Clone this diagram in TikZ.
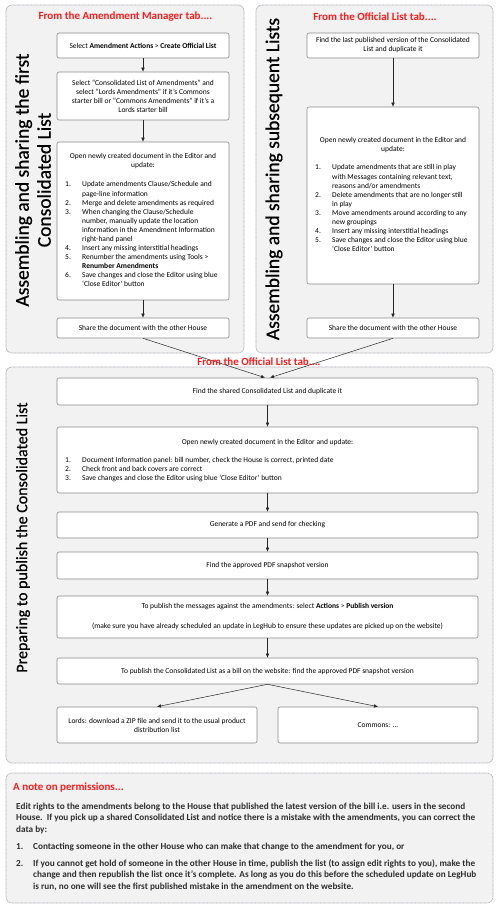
\documentclass[tikz,border=0pt]{standalone}
\usepackage{fontspec}
\setmainfont{Carlito}
\newfontfamily\titlefont[FakeBold=0.6]{Carlito}
\usetikzlibrary{arrows.meta,calc}
\definecolor{panelfill}{HTML}{F2F2F2}
\definecolor{panelline}{HTML}{A9A9B4}
\definecolor{boxline}{HTML}{8A8A8A}
\definecolor{headred}{HTML}{FF1A1A}
\definecolor{notetext}{HTML}{2E2E2E}
\begin{document}
\begin{tikzpicture}[x=1pt,y=-1pt,
  panel/.style={fill=panelfill, draw=panelline, line width=0.6pt, dash pattern=on 0.8pt off 0.5pt, rounded corners=6pt},
  box/.style={draw=boxline, fill=white, line width=0.6pt, rounded corners=2pt, inner sep=0pt, align=center, font=\fontsize{7.5}{9}\selectfont},
  btext/.style={inner sep=0pt, align=center, font=\fontsize{7.5}{9}\selectfont},
  ltext/.style={inner sep=0pt, anchor=base west, font=\fontsize{7.5}{9.05}\selectfont},
  head/.style={text=headred, font=\fontsize{11}{13}\selectfont\bfseries, inner sep=0pt},
  vtitle/.style={rotate=90, align=center, inner sep=0pt, text=black},
  notestyle/.style={inner sep=0pt, anchor=base west, text=notetext, font=\fontsize{9.2}{11.6}\selectfont\bfseries},
  arr/.style={-{Latex[length=4pt,width=3.6pt]}, draw=black!85, line width=0.5pt}
]
\useasboundingbox (0,0) rectangle (502,909);

% panels
\draw[panel] (6,5) rectangle (244,353);
\draw[panel] (256,5) rectangle (493,353);
\draw[panel] (6,367) rectangle (493,763);
\draw[panel] (6,773) rectangle (493,903);

% headings
\node[head] (hl) at (125.5,17) {From the Amendment Manager tab....};
\node[head] (hr) at (375,17) {From the Official List tab....};

% vertical titles
\node[vtitle, font=\titlefont\fontsize{19.5}{22}\selectfont] (tl) at (33,180) {Assembling and sharing the first\\Consolidated List};
\node[vtitle, font=\titlefont\fontsize{19.5}{22}\selectfont] (tr) at (274,179) {Assembling and sharing subsequent Lists};
\node[vtitle, font=\titlefont\fontsize{16}{19}\selectfont] (tm) at (23,537.5) {Preparing to publish the Consolidated List};

% left column
\node[box, minimum width=172pt, minimum height=25pt] (l1) at (143,45.5) {Select \textbf{Amendment Actions} > \textbf{Create Official List}};
\node[box, minimum width=172pt, minimum height=48pt] (l2) at (143,96) {Select “Consolidated List of Amendments” and\\select “Lords Amendments” if it’s Commons\\starter bill or “Commons Amendments” if it’s a\\Lords starter bill};
\node[box, minimum width=172pt, minimum height=158pt] (l3) at (143,221) {};
\node[btext] (l3h) at (143,161.5) {Open newly created document in the Editor and\\update:};
\node[ltext] (l3list) at (65,187) {\begin{tabular}[t]{@{}p{17pt}@{}l@{}}
1. & Update amendments Clause/Schedule and\\
   & page-line information\\
2. & Merge and delete amendments as required\\
3. & When changing the Clause/Schedule\\
   & number, manually update the location\\
   & information in the Amendment Information\\
   & right-hand panel\\
4. & Insert any missing interstitial headings\\
5. & Renumber the amendments using Tools >\\
   & \textbf{Renumber Amendments}\\
6. & Save changes and close the Editor using blue\\
   & ‘Close Editor’ button
\end{tabular}};
\node[box, minimum width=172pt, minimum height=20pt] (l4) at (143,328) {Share the document with the other House};

% right column
\node[box, minimum width=172pt, minimum height=25pt] (r1) at (393,45.5) {Find the last published version of the Consolidated\\List and duplicate it};
\node[box, minimum width=172pt, minimum height=177pt] (r2) at (393,195.5) {};
\node[btext] (r2h) at (393,145) {Open newly created document in the Editor and\\update:};
\node[ltext] (r2list) at (315,170) {\begin{tabular}[t]{@{}p{17pt}@{}l@{}}
1. & Update amendments that are still in play\\
   & with Messages containing relevant text,\\
   & reasons and/or amendments\\
2. & Delete amendments that are no longer still\\
   & in play\\
3. & Move amendments around according to any\\
   & new groupings\\
4. & Insert any missing interstitial headings\\
5. & Save changes and close the Editor using blue\\
   & ‘Close Editor’ button
\end{tabular}};
\node[box, minimum width=172pt, minimum height=20pt] (r3) at (393,328) {Share the document with the other House};

% middle section
\node[box, minimum width=421pt, minimum height=27pt] (m1) at (267.5,391.5) {Find the shared Consolidated List and duplicate it};
\node[box, minimum width=421pt, minimum height=66pt] (m2) at (267.5,460) {};
\node[btext] (m2h) at (267.5,442) {Open newly created document in the Editor and update:};
\node[ltext] (m2list) at (65,462) {\begin{tabular}[t]{@{}p{17pt}@{}l@{}}
1. & Document Information panel: bill number, check the House is correct, printed date\\
2. & Check front and back covers are correct\\
3. & Save changes and close the Editor using blue ‘Close Editor’ button
\end{tabular}};
\node[box, minimum width=421pt, minimum height=26pt] (m3) at (267.5,525) {Generate a PDF and send for checking};
\node[box, minimum width=421pt, minimum height=27pt] (m4) at (267.5,565.5) {Find the approved PDF snapshot version};
\node[box, minimum width=421pt, minimum height=42pt] (m5) at (267.5,617) {To publish the messages against the amendments: select \textbf{Actions} > \textbf{Publish version}\\[11pt](make sure you have already scheduled an update in LegHub to ensure these updates are picked up on the website)};
\node[box, minimum width=421pt, minimum height=26pt] (m6) at (267.5,671) {To publish the Consolidated List as a bill on the website: find the approved PDF snapshot version};
\node[box, minimum width=200pt, minimum height=36pt] (lords) at (157,725) {Lords: download a ZIP file and send it to the usual product\\distribution list};
\node[box, minimum width=200pt, minimum height=36pt] (commons) at (378,725) {Commons: ...};

% arrows
\draw[arr] (l1.south) -- (l2.north);
\draw[arr] (l2.south) -- (l3.north);
\draw[arr] (l3.south) -- (l4.north);
\draw[arr] (r1.south) -- (r2.north);
\draw[arr] (r2.south) -- (r3.north);
\draw[arr] (l4.south) -- ($(m1.north)+(-2.5,0)$);
\draw[arr] (r3.south) -- ($(m1.north)+(2.5,0)$);
\draw[arr] (m1.south) -- (m2.north);
\draw[arr] (m2.south) -- (m3.north);
\draw[arr] (m3.south) -- (m4.north);
\draw[arr] (m4.south) -- (m5.north);
\draw[arr] (m5.south) -- (m6.north);
\draw[arr] (m6.south) -- (lords.north);
\draw[arr] (m6.south) -- (commons.north);

\node[head] (hm) at (259,362) {From the Official List tab....};

% note
\node[head, anchor=west] (nh) at (13,787) {A note on permissions...};
\node[notestyle] (np) at (16,809) {\begin{tabular}[t]{@{}l@{}}Edit rights to the amendments belong to the House that published the latest version of the bill i.e. users in the second\\House.\ \ If you pick up a shared Consolidated List and notice there is a mistake with the amendments, you can correct the\\data by:\end{tabular}};
\node[notestyle] (n1) at (16,849) {\begin{tabular}[t]{@{}p{17pt}@{}l@{}}1. & Contacting someone in the other House who can make that change to the amendment for you, or\end{tabular}};
\node[notestyle] (n2) at (16,866) {\begin{tabular}[t]{@{}p{17pt}@{}l@{}}
2. & If you cannot get hold of someone in the other House in time, publish the list (to assign edit rights to you), make the\\
   & change and then republish the list once it’s complete. As long as you do this before the scheduled update on LegHub\\
   & is run, no one will see the first published mistake in the amendment on the website.
\end{tabular}};
\end{tikzpicture}
\end{document}
